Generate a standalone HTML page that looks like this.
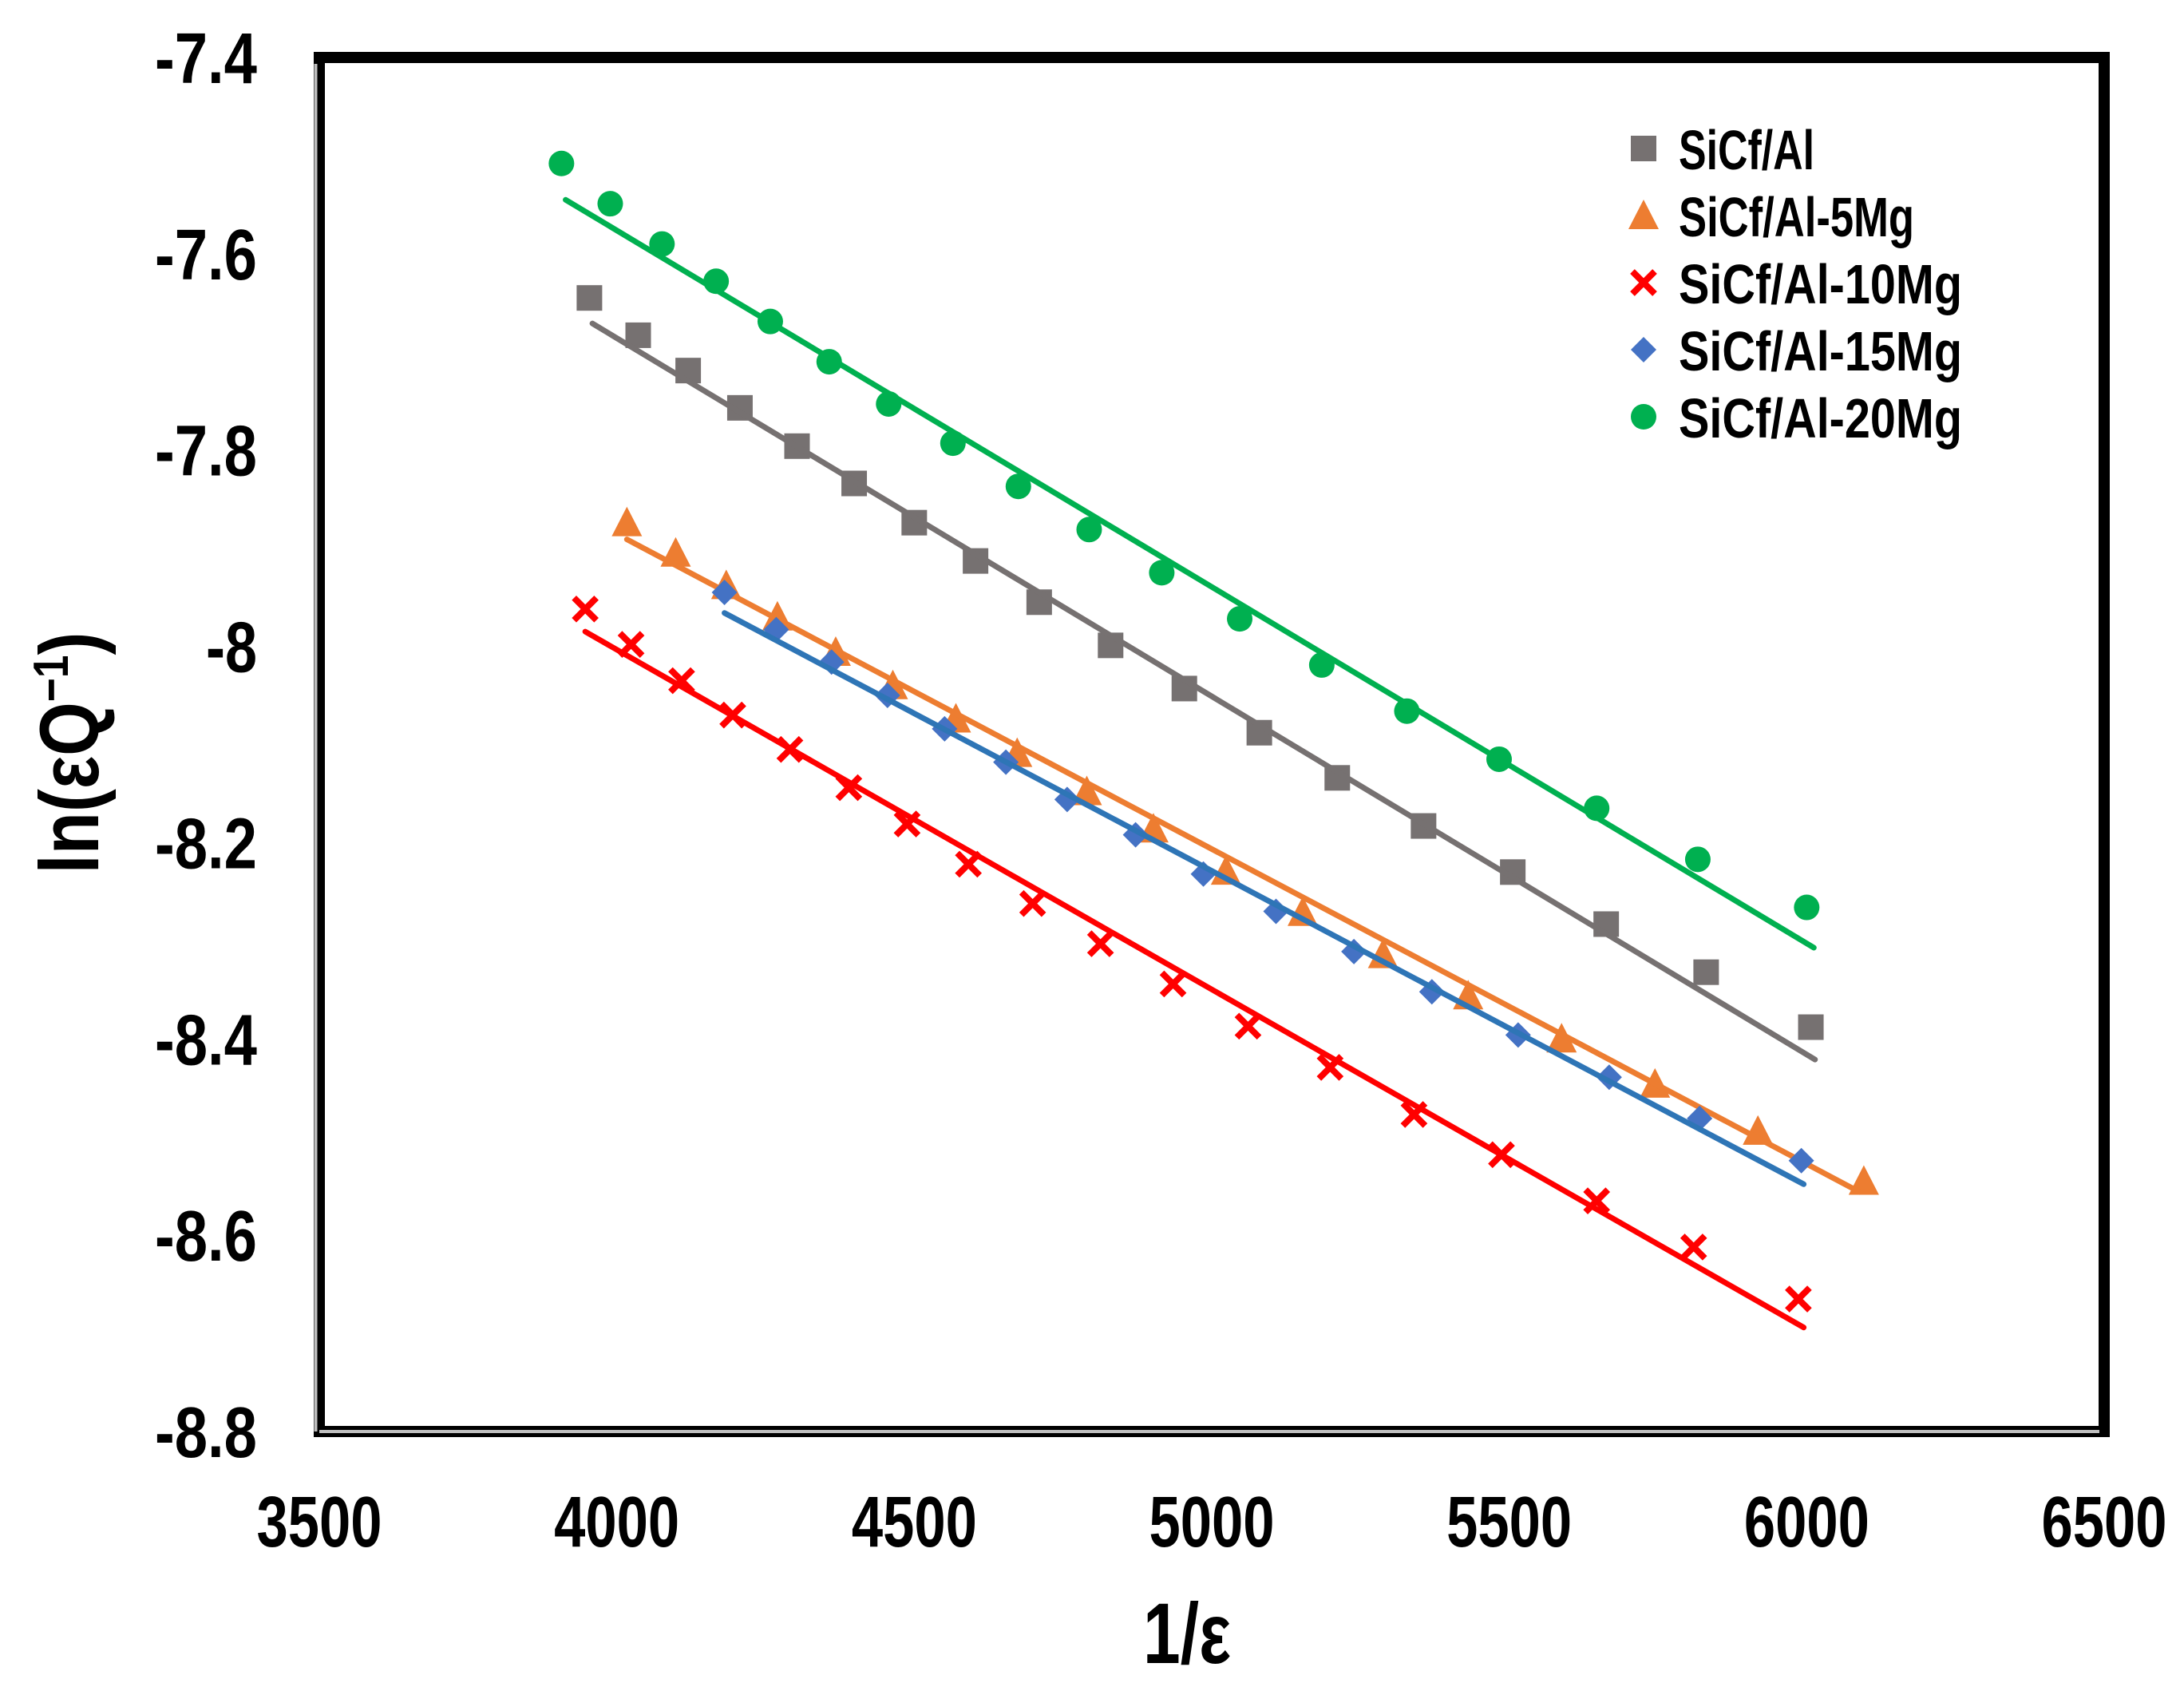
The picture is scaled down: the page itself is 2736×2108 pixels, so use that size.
<!DOCTYPE html>
<html><head><meta charset="utf-8"><style>
html,body{margin:0;padding:0;background:#fff;}
svg{display:block;}
text{font-family:"Liberation Sans",Arial,sans-serif;font-weight:bold;fill:#000;}
</style></head><body>
<svg id="chart" width="2736" height="2108" viewBox="0 0 2736 2108" xmlns="http://www.w3.org/2000/svg">
<rect x="0" y="0" width="2736" height="2108" fill="#fff"/>
<g id="series"></g>
<rect x="400" y="72" width="2236" height="1721" fill="none" stroke="#000" stroke-width="14"/>
<line x1="395.5" y1="80" x2="395.5" y2="1793" stroke="#bfbfbf" stroke-width="4"/>
<line x1="400" y1="1793" x2="2630" y2="1793" stroke="#bfbfbf" stroke-width="4"/>
<g id="axes"></g>
<text x="1487" y="2083" font-size="108" text-anchor="middle" textLength="110" lengthAdjust="spacingAndGlyphs">1/ε</text>
<text transform="translate(123,943) rotate(-90)" font-size="105" text-anchor="middle" textLength="303" lengthAdjust="spacingAndGlyphs">ln(εQ<tspan font-size="62" dy="-38">−1</tspan><tspan dy="38">)</tspan></text>
<g id="legend"></g>
</svg>
<script>
const xTicks = [3500, 4000, 4500, 5000, 5500, 6000, 6500];
const yTicks = [-7.4, -7.6, -7.8, -8, -8.2, -8.4, -8.6, -8.8];
const yTickLabels = ["-7.4", "-7.6", "-7.8", "-8", "-8.2", "-8.4", "-8.6", "-8.8"];
const seriesNames = ["SiCf/Al", "SiCf/Al-5Mg", "SiCf/Al-10Mg", "SiCf/Al-15Mg", "SiCf/Al-20Mg"];

const xAl = [3954,4036,4120,4207,4303,4399,4500,4603,4710,4830,4954,5080,5211,5356,5506,5663,5831,6007];
const yAl = [-7.645,-7.683,-7.719,-7.757,-7.796,-7.834,-7.874,-7.913,-7.955,-7.999,-8.043,-8.088,-8.134,-8.183,-8.230,-8.283,-8.332,-8.388];
const fitAlX = [3959, 6014];
const fitAlY = [-7.671, -8.421];

const x5 = [4017,4099,4184,4270,4368,4464,4570,4673,4790,4902,5024,5153,5288,5431,5588,5745,5918,6096];
const y5 = [-7.874,-7.905,-7.938,-7.970,-8.006,-8.040,-8.074,-8.109,-8.148,-8.186,-8.229,-8.271,-8.314,-8.356,-8.400,-8.446,-8.494,-8.545];
const fit5X = [4017, 6089];
const fit5Y = [-7.891, -8.556];

const x10 = [3947,4024,4109,4195,4291,4390,4488,4591,4699,4813,4935,5061,5199,5340,5487,5647,5810,5986];
const y10 = [-7.962,-7.998,-8.035,-8.070,-8.105,-8.144,-8.181,-8.222,-8.262,-8.303,-8.344,-8.387,-8.429,-8.477,-8.518,-8.565,-8.612,-8.665];
const fit10X = [3947, 5995];
const fit10Y = [-7.985, -8.694];

const x15 = [4181,4268,4361,4455,4551,4654,4757,4872,4986,5108,5239,5370,5515,5668,5820,5991];
const y15 = [-7.945,-7.983,-8.016,-8.050,-8.084,-8.118,-8.156,-8.192,-8.232,-8.270,-8.311,-8.352,-8.396,-8.439,-8.481,-8.524];
const fit15X = [4181, 5995];
const fit15Y = [-7.966, -8.548];

const x20 = [3907,3989,4076,4167,4258,4357,4457,4565,4675,4794,4916,5047,5185,5328,5483,5647,5817,6000];
const y20 = [-7.508,-7.549,-7.590,-7.628,-7.669,-7.710,-7.753,-7.793,-7.837,-7.881,-7.925,-7.972,-8.019,-8.066,-8.115,-8.165,-8.217,-8.266];
const fit20X = [3914, 6012];
const fit20Y = [-7.545, -8.307];

const NS = "http://www.w3.org/2000/svg";
const PL = 400, PR = 2636, PT = 72, PB = 1793;
const X0 = 3500, X1 = 6500, Y0 = -7.4, Y1 = -8.8;
function sx(v){ return PL + (v - X0) / (X1 - X0) * (PR - PL); }
function sy(v){ return PT + (v - Y0) / (Y1 - Y0) * (PB - PT); }
function mk(tag, attrs, parent){
  const e = document.createElementNS(NS, tag);
  for (const k in attrs) e.setAttribute(k, attrs[k]);
  parent.appendChild(e);
  return e;
}
const axes = document.getElementById('axes');
xTicks.forEach((t) => {
  const e = mk('text', {x: sx(t), y: 1937, 'font-size': 90, 'text-anchor': 'middle', textLength: 157, lengthAdjust: 'spacingAndGlyphs'}, axes);
  e.textContent = String(t);
  
  
});
yTicks.forEach((t, i) => {
  const lab = yTickLabels[i];
  const e = mk('text', {x: 322, y: sy(t) + 32, 'font-size': 90, 'text-anchor': 'end', textLength: lab.length * 32, lengthAdjust: 'spacingAndGlyphs'}, axes);
  e.textContent = lab;
  
  
});

function marker(kind, cx, cy, color, g){
  let e;
  if (kind === 'square') e = mk('rect', {x: cx-16, y: cy-16, width: 32, height: 32, fill: color}, g);
  else if (kind === 'triangle') e = mk('polygon', {points: `${cx},${cy-20} ${cx+19},${cy+17} ${cx-19},${cy+17}`, fill: color, 'stroke-linejoin':'round'}, g);
  else if (kind === 'diamond') e = mk('polygon', {points: `${cx},${cy-16} ${cx+16},${cy} ${cx},${cy+16} ${cx-16},${cy}`, fill: color}, g);
  else if (kind === 'circle') e = mk('circle', {cx: cx, cy: cy, r: 16, fill: color}, g);
  else e = mk('path', {d: `M${cx-14},${cy-14}L${cx+14},${cy+14}M${cx+14},${cy-14}L${cx-14},${cy+14}`, stroke: color, 'stroke-width': 8, fill: 'none'}, g);
  return e;
}

const series = [
  {xs: xAl, ys: yAl, fx: fitAlX, fy: fitAlY, kind: 'square', mc: '#767171', lc: '#767171', key: 'sicf-al'},
  {xs: x5, ys: y5, fx: fit5X, fy: fit5Y, kind: 'triangle', mc: '#ED7D31', lc: '#ED7D31', key: 'sicf-al-5mg'},
  {xs: x10, ys: y10, fx: fit10X, fy: fit10Y, kind: 'cross', mc: '#FF0000', lc: '#FF0000', key: 'sicf-al-10mg'},
  {xs: x15, ys: y15, fx: fit15X, fy: fit15Y, kind: 'diamond', mc: '#4472C4', lc: '#2E75B6', key: 'sicf-al-15mg'},
  {xs: x20, ys: y20, fx: fit20X, fy: fit20Y, kind: 'circle', mc: '#00B050', lc: '#00B050', key: 'sicf-al-20mg'}
];
const sg = document.getElementById('series');
series.forEach((s) => {
  const g = mk('g', {}, sg);
  
  
  s.xs.forEach((xv, i) => {
    const m = marker(s.kind, sx(xv), sy(s.ys[i]), s.mc, g);
    
    
  });
  const l = mk('line', {x1: sx(s.fx[0]), y1: sy(s.fy[0]), x2: sx(s.fx[1]), y2: sy(s.fy[1]), stroke: s.lc, 'stroke-width': 7, 'stroke-linecap': 'round'}, g);
  
  
});

const lg = document.getElementById('legend');
const legW = [170, 295, 355, 355, 355];
series.forEach((s, i) => {
  const base = 212 + i * 84;
  const m = marker(s.kind, 2059, base - 26, s.mc, lg);
  
  
  const t = mk('text', {x: 2103, y: base, 'font-size': 70, textLength: legW[i], lengthAdjust: 'spacingAndGlyphs'}, lg);
  t.textContent = seriesNames[i];
  
  
});
</script>
</body></html>
